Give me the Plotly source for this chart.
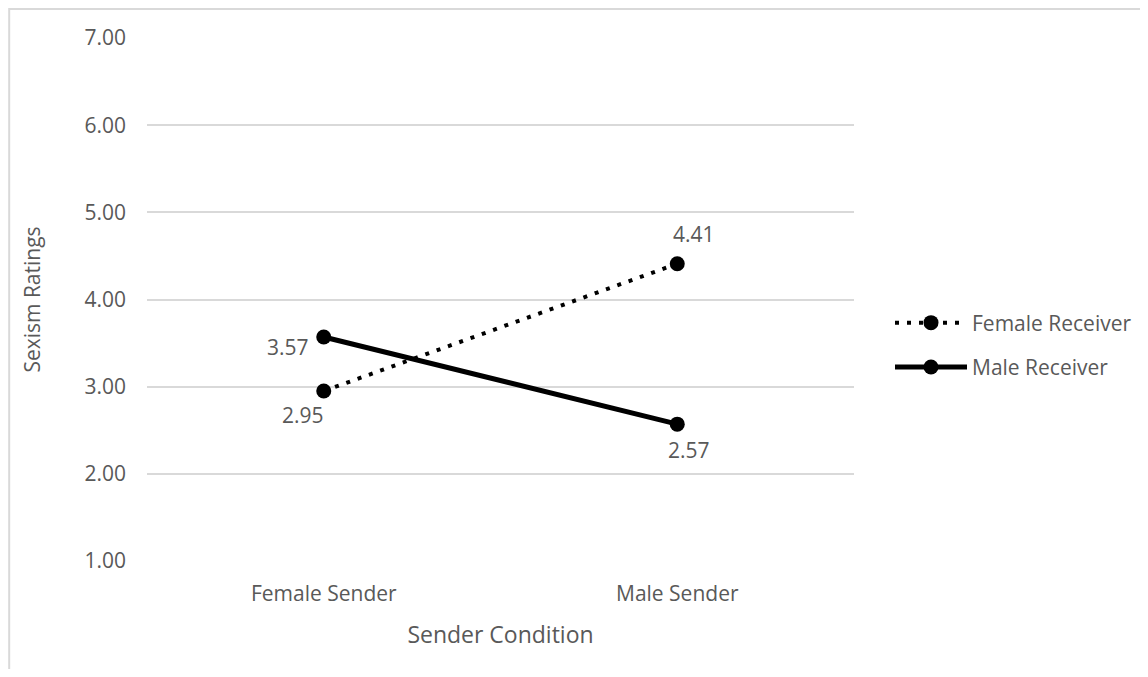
import plotly.graph_objects as go

categories = ["Female Sender", "Male Sender"]
female_receiver = [2.95, 4.41]
male_receiver = [3.57, 2.57]
y_ticks = [1, 2, 3, 4, 5, 6, 7]
y_tick_labels = ["1.00", "2.00", "3.00", "4.00", "5.00", "6.00", "7.00"]

FONT = "Open Sans"
GREY = "#595959"

# label pixel offsets (style only)
fr_label_shift = [(-21, -24), (17, 30)]
mr_label_shift = [(-36, -10), (12, -26)]

fig = go.Figure()
fig.add_trace(go.Scatter(
    x=categories, y=female_receiver, name="Female Receiver", legendgroup="fr",
    mode="lines+markers",
    line=dict(color="black", width=4, dash="4px,8px"),
    marker=dict(color="black", size=15),
))
fig.add_trace(go.Scatter(
    x=categories, y=male_receiver, name="Male Receiver", legendgroup="mr",
    mode="lines+markers",
    line=dict(color="black", width=5),
    marker=dict(color="black", size=15),
))

for series, shifts in ((female_receiver, fr_label_shift), (male_receiver, mr_label_shift)):
    for cat, val, (dx, dy) in zip(categories, series, shifts):
        fig.add_annotation(x=cat, y=val, text=f"{val:.2f}", showarrow=False,
                           xshift=dx, yshift=dy,
                           font=dict(family=FONT, size=21, color=GREY))

# page has an 8px body margin; figure sized so it fits the window
W, H = 1140, 661
L, R, T, B = 139, 293, 30, 108
pw, ph = W - L - R, H - T - B

fig.add_shape(type="rect", xref="paper", yref="paper",
              x0=(1 - L) / pw, x1=(W + 5 - L) / pw,
              y0=(H - B - (H + 5)) / ph, y1=(H - B - 1) / ph,
              line=dict(color="#d9d9d9", width=2), fillcolor="rgba(0,0,0,0)",
              layer="below")

fig.update_layout(
    width=W, height=H,
    margin=dict(l=L, r=R, t=T, b=B),
    paper_bgcolor="white", plot_bgcolor="white",
    font=dict(family=FONT, color=GREY, size=21),
    showlegend=True,
    legend=dict(x=(882 - L) / pw, xanchor="left", y=(H - B - 337) / ph, yanchor="middle",
                font=dict(family=FONT, size=21, color=GREY), itemwidth=72,
                traceorder="grouped", tracegroupgap=14, bgcolor="rgba(0,0,0,0)"),
    xaxis=dict(type="category", range=[-0.5, 1.5], showgrid=False, zeroline=False,
               showline=False, ticks="", ticklabelstandoff=18,
               tickfont=dict(family=FONT, size=21, color=GREY),
               title=dict(text="Sender Condition", standoff=20,
                          font=dict(family=FONT, size=23, color=GREY))),
    yaxis=dict(range=[1, 7], tickvals=y_ticks, ticktext=y_tick_labels,
               showgrid=True, gridcolor="#d9d9d9", gridwidth=2, zeroline=False,
               showline=False, ticks="", ticklabelstandoff=20,
               tickfont=dict(family=FONT, size=21, color=GREY),
               title=dict(text="Sexism Ratings", standoff=38,
                          font=dict(family=FONT, size=21, color=GREY))),
)

fig.write_html("out.html")
